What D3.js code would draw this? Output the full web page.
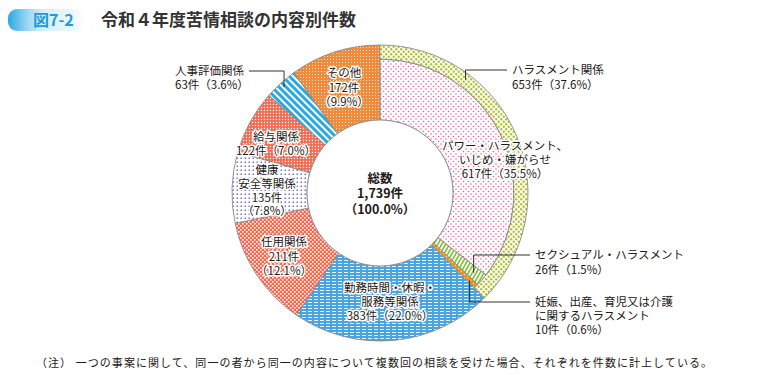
<!DOCTYPE html>
<html><head><meta charset="utf-8">
<script src="https://cdn.jsdelivr.net/npm/d3@7"></script>
<style>
body{margin:0;background:#fff;}
svg{display:block;font-family:"Noto Sans CJK JP","Noto Sans",sans-serif;}
</style></head><body><svg id="c" width="760" height="375"></svg>
<script>
// ---- data ----
const categories = [
  "パワー・ハラスメント、いじめ・嫌がらせ",
  "セクシュアル・ハラスメント",
  "妊娠、出産、育児又は介護に関するハラスメント",
  "勤務時間・休暇・服務等関係",
  "任用関係",
  "健康安全等関係",
  "給与関係",
  "人事評価関係",
  "その他"
];
const counts = [617, 26, 10, 383, 211, 135, 122, 63, 172];
const percents = ["35.5", "1.5", "0.6", "22.0", "12.1", "7.8", "7.0", "3.6", "9.9"];
const harassmentGroup = [0, 1, 2];           // indices belonging to ハラスメント関係
const groupName = "ハラスメント関係";
const groupCount = 653;
const groupPercent = "37.6";
const totalLabel = ["総数", "1,739件", "（100.0%）"];
const titleBadge = "図7-2";
const titleText = "令和４年度苦情相談の内容別件数";
const noteText = "（注） 一つの事案に関して、同一の者から同一の内容について複数回の相談を受けた場合、それぞれを件数に計上している。";

// label line breaks (text only)
const labelLines = [
  ["パワー・ハラスメント、", "いじめ・嫌がらせ"],
  ["セクシュアル・ハラスメント"],
  ["妊娠、出産、育児又は介護", "に関するハラスメント"],
  ["勤務時間・休暇・", "服務等関係"],
  ["任用関係"],
  ["健康", "安全等関係"],
  ["給与関係"],
  ["人事評価関係"],
  ["その他"]
];
const countOnSeparateLine = [false, false, false, false, true, true, false, false, true];

// ---- layout ----
const W = 760, H = 375;
const cx = 380, cy = 193;
const rInner = 73, rSub = 134, rOuter = 148;
const fs = 11.5;
const labelLayout = [
  {dx: 125, dy: -47, anchor: "middle", lh: 14},
  {dx: 155, dy: 62, anchor: "start", lh: 15, leaderR: 123},
  {dx: 155, dy: 109, anchor: "start", lh: 14, leaderR: 125, down: true},
  {dx: 10, dy: 95, anchor: "middle", lh: 14},
  {dx: -96, dy: 49, anchor: "middle", lh: 14.5},
  {dx: -113, dy: -23, anchor: "middle", lh: 13.8},
  {dx: -104, dy: -56, anchor: "middle", lh: 13.5},
  {dx: -205, dy: -122, anchor: "start", lh: 14, leaderR: 143, left: true},
  {dx: -36, dy: -120, anchor: "middle", lh: 14.5}
];
const groupLayout = {dx: 132, dy: -123, lh: 14.5, leaderAngleDeg: 37, leaderR: 142};

const svg = d3.select("#c");
const defs = svg.append("defs");

// ---- patterns ----
function pattern(id, w, h, bg, draw, rotate) {
  const p = defs.append("pattern").attr("id", id).attr("patternUnits", "userSpaceOnUse")
    .attr("width", w).attr("height", h);
  if (rotate) p.attr("patternTransform", `rotate(${rotate})`);
  p.append("rect").attr("width", w).attr("height", h).attr("fill", bg);
  draw(p);
}
pattern("pPower", 5, 5, "#fff", p => {
  p.append("circle").attr("cx", 1).attr("cy", 1).attr("r", 0.8).attr("fill", "#eb5a9d");
  p.append("circle").attr("cx", 3.5).attr("cy", 3.5).attr("r", 0.8).attr("fill", "#eb5a9d");
});
pattern("pSexual", 3.4, 3.4, "#fff", p => {
  p.append("rect").attr("width", 1.7).attr("height", 3.4).attr("fill", "#86c440");
}, 30);
pattern("pMaternity", 3, 3, "#f39221", p => {
  p.append("rect").attr("width", 1).attr("height", 1).attr("fill", "#fff");
});
pattern("pWork", 6, 3, "#4aa4df", p => {
  p.append("rect").attr("y", 1).attr("width", 4).attr("height", 0.9).attr("fill", "#fff");
});
pattern("pNinyo", 4, 4, "#ef6b52", p => {
  p.append("rect").attr("x", 0).attr("y", 0).attr("width", 1.6).attr("height", 1.6).attr("fill", "#fff");
  p.append("rect").attr("x", 2).attr("y", 2).attr("width", 1.6).attr("height", 1.6).attr("fill", "#fff");
});
pattern("pHealth", 4, 4, "#fff", p => {
  p.append("rect").attr("x", 0.5).attr("y", 0.5).attr("width", 1.5).attr("height", 1.5).attr("fill", "#7b6fc0");
});
pattern("pPay", 3, 3, "#f2694f", p => {
  p.append("rect").attr("x", 0.8).attr("y", 0.8).attr("width", 1.3).attr("height", 1.3).attr("fill", "#fff");
});
pattern("pEval", 5, 5, "#26a9e1", p => {
  p.append("rect").attr("width", 2).attr("height", 5).attr("fill", "#fff");
}, -45);
pattern("pOther", 3, 3, "#ef8b3b", p => {
  p.append("rect").attr("x", 1).attr("y", 1).attr("width", 0.9).attr("height", 0.9).attr("fill", "#fff");
});
pattern("pGroup", 5, 5, "#fff", p => {
  p.append("circle").attr("cx", 1.2).attr("cy", 1.2).attr("r", 1.2).attr("fill", "#b0c328");
  p.append("circle").attr("cx", 3.7).attr("cy", 3.7).attr("r", 1.2).attr("fill", "#b0c328");
});
const fills = ["pPower", "pSexual", "pMaternity", "pWork", "pNinyo", "pHealth", "pPay", "pEval", "pOther"];

// title badge gradient
const grad = defs.append("linearGradient").attr("id", "gBadge").attr("x1", 0).attr("x2", 1);
grad.append("stop").attr("offset", "0%").attr("stop-color", "#2aa8e3");
grad.append("stop").attr("offset", "25%").attr("stop-color", "#9dd7f3");
grad.append("stop").attr("offset", "45%").attr("stop-color", "#d6eefa");
grad.append("stop").attr("offset", "85%").attr("stop-color", "#eef8fd");
grad.append("stop").attr("offset", "100%").attr("stop-color", "#ffffff");

// ---- title ----
svg.append("rect").attr("x", 8).attr("y", 9).attr("width", 78).attr("height", 22).attr("rx", 9)
  .attr("fill", "url(#gBadge)");
svg.append("text").attr("x", 33).attr("y", 26).attr("font-size", 16).attr("font-weight", "bold")
  .attr("fill", "#1f9ad6").text(titleBadge);
svg.append("text").attr("x", 101).attr("y", 26).attr("font-size", 17).attr("font-weight", "bold")
  .attr("fill", "#333").text(titleText);

// ---- pie ----
const pie = d3.pie().sort(null).value(d => d);
const arcsData = pie(counts);
const g = svg.append("g").attr("transform", `translate(${cx},${cy})`);
const arcFor = i => d3.arc().innerRadius(rInner).outerRadius(harassmentGroup.includes(i) ? rSub : rOuter);

g.selectAll("path.slice").data(arcsData).join("path").attr("class", "slice")
  .attr("d", (d, i) => arcFor(i)(d))
  .attr("fill", (d, i) => `url(#${fills[i]})`)
  .attr("stroke", "#8a8a8a").attr("stroke-width", 0.9);

// outer ring for ハラスメント関係
const gStart = arcsData[harassmentGroup[0]].startAngle;
const gEnd = arcsData[harassmentGroup[harassmentGroup.length - 1]].endAngle;
const ringArc = d3.arc().innerRadius(rSub).outerRadius(rOuter);
g.append("path").attr("d", ringArc({startAngle: gStart, endAngle: gEnd}))
  .attr("fill", "url(#pGroup)").attr("stroke", "#8a8a8a").attr("stroke-width", 0.9);

// hole outline
g.append("circle").attr("r", rInner).attr("fill", "#fff").attr("stroke", "#8a8a8a").attr("stroke-width", 0.9);

// ---- labels ----
const labels = svg.append("g").attr("font-size", fs).attr("fill", "#231815");
function addText(parent, x, y, str, anchor, halo) {
  const t = parent.append("text").attr("x", x).attr("y", y + 4).attr("text-anchor", anchor).text(str);
  if (halo) t.attr("stroke", "#fff").attr("stroke-width", 3).attr("stroke-linejoin", "round").attr("paint-order", "stroke");
  return t;
}
function polar(r, a) { return [cx + r * Math.sin(a), cy - r * Math.cos(a)]; }
const leaders = svg.append("g").attr("fill", "none").attr("stroke", "#231815").attr("stroke-width", 0.9);

arcsData.forEach((d, i) => {
  const L = labelLayout[i];
  const x = cx + L.dx, y0 = cy + L.dy;
  const lines = labelLines[i].slice();
  const cnt = `${counts[i]}件`, pct = `（${percents[i]}%）`;
  if (countOnSeparateLine[i]) { lines.push(cnt, pct); } else { lines.push(`${cnt}${pct}`); }
  const halo = !L.leaderR;
  let firstText;
  lines.forEach((s, k) => {
    const t = addText(labels, x, y0 + k * L.lh, s, L.anchor, halo);
    if (k === 0) firstText = t;
  });
  if (L.leaderR) {
    const mid = (d.startAngle + d.endAngle) / 2;
    const [ax, ay] = polar(L.leaderR, mid);
    let hx;
    if (L.left) hx = x + firstText.node().getComputedTextLength() + 5;
    else hx = x - 5;
    leaders.append("polyline").attr("points", [[ax, ay], [ax, y0], [hx, y0]].map(p => p.join(",")).join(" "));
  }
});

// group label
{
  const x = cx + groupLayout.dx, y0 = cy + groupLayout.dy;
  addText(labels, x, y0, groupName, "start", false);
  addText(labels, x, y0 + groupLayout.lh, `${groupCount}件（${groupPercent}%）`, "start", false);
  const a = groupLayout.leaderAngleDeg * Math.PI / 180;
  const [ax, ay] = polar(groupLayout.leaderR, a);
  leaders.append("polyline").attr("points", [[ax, ay], [ax, y0], [x - 5, y0]].map(p => p.join(",")).join(" "));
}

// total in center
const tot = svg.append("g").attr("font-size", 12.5).attr("font-weight", "bold").attr("fill", "#231815").attr("text-anchor", "middle");
totalLabel.forEach((s, k) => {
  tot.append("text").attr("x", cx).attr("y", cy - 15 + k * 15.5 + 4.5).text(s);
});

// note
svg.append("text").attr("x", 36).attr("y", 367).attr("font-size", 11).attr("fill", "#231815")
  .attr("textLength", 676).attr("lengthAdjust", "spacing").text(noteText);
</script></body></html>
